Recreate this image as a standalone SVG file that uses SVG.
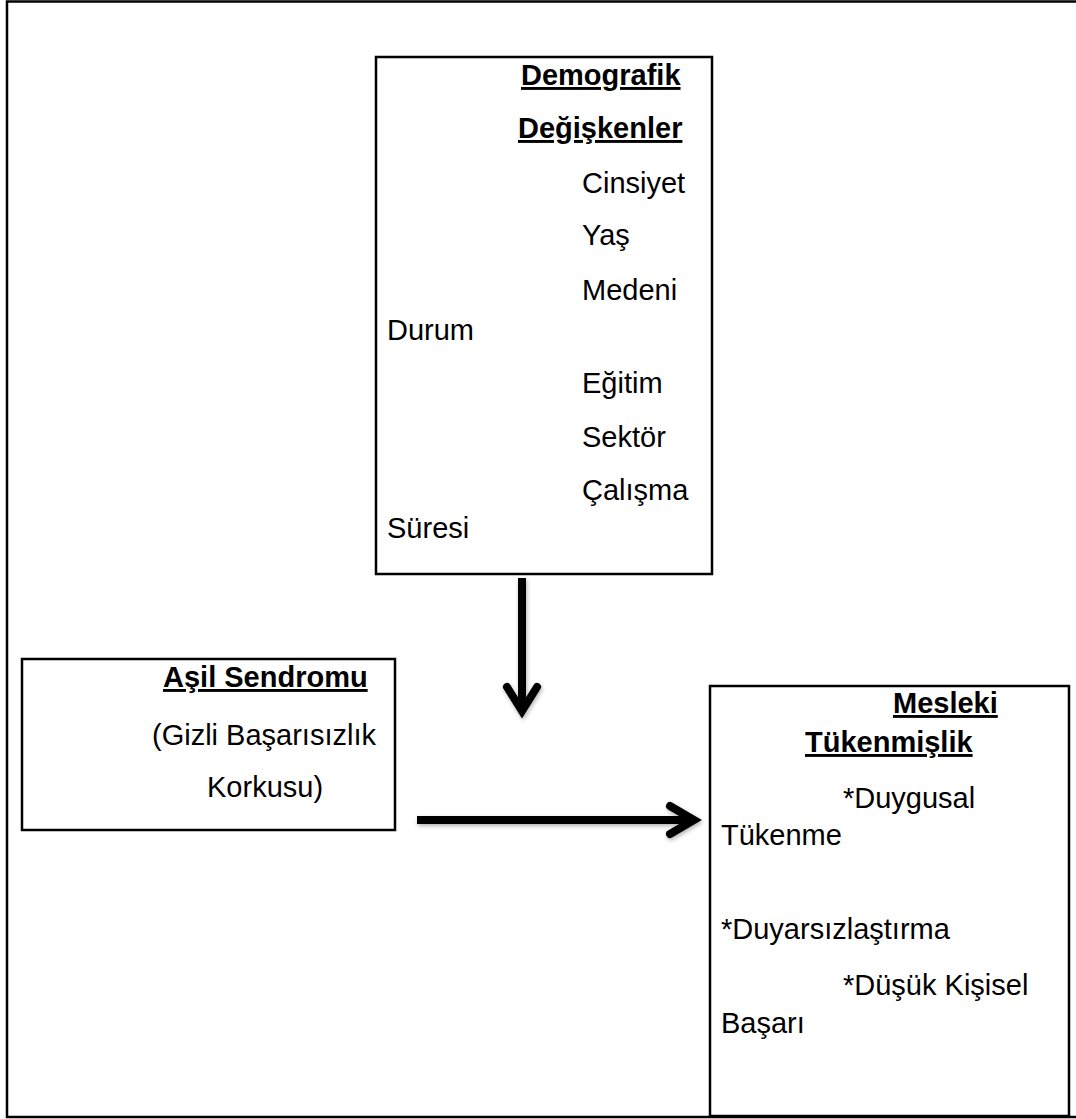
<svg xmlns="http://www.w3.org/2000/svg" width="1076" height="1119" viewBox="0 0 1076 1119">
<defs>
<style>
.box{fill:#fff;stroke:#000;stroke-width:2.5}
.t{font-family:"Liberation Sans",Arial,sans-serif;font-size:29px;fill:#000}
.b{font-weight:bold;text-decoration:underline}
.arr{fill:none;stroke:#000;stroke-width:8}
</style>
<filter id="sh" x="-20%" y="-20%" width="140%" height="140%">
<feDropShadow dx="1" dy="2" stdDeviation="2" flood-color="#000" flood-opacity="0.3"/>
</filter>
</defs>
<rect x="7" y="1.5" width="1080" height="1115.5" fill="none" stroke="#000" stroke-width="2.5"/>
<g id="demografik">
<rect class="box" x="376" y="57" width="336" height="517"/>
<text class="t b" x="521" y="85">Demografik</text>
<text class="t b" x="518" y="138">Değişkenler</text>
<text class="t" x="582" y="193">Cinsiyet</text>
<text class="t" x="582" y="245">Yaş</text>
<text class="t" x="582" y="300">Medeni</text>
<text class="t" x="387" y="340">Durum</text>
<text class="t" x="582" y="393">Eğitim</text>
<text class="t" x="582" y="447">Sektör</text>
<text class="t" x="582" y="500">Çalışma</text>
<text class="t" x="387" y="538">Süresi</text>
</g>
<g id="asil">
<rect class="box" x="22" y="659" width="373" height="171"/>
<text class="t b" x="163" y="687">Aşil Sendromu</text>
<text class="t" x="152" y="745">(Gizli Başarısızlık</text>
<text class="t" x="207" y="797">Korkusu)</text>
</g>
<g id="mesleki">
<rect class="box" x="710" y="686" width="359" height="430"/>
<text class="t b" x="893" y="713">Mesleki</text>
<text class="t b" x="805" y="752">Tükenmişlik</text>
<text class="t" x="843" y="808">*Duygusal</text>
<text class="t" x="721" y="845">Tükenme</text>
<text class="t" x="721" y="939">*Duyarsızlaştırma</text>
<text class="t" x="843" y="995">*Düşük Kişisel</text>
<text class="t" x="721" y="1033">Başarı</text>
</g>
<g id="connectors" filter="url(#sh)">
<line class="arr" x1="522" y1="578" x2="522" y2="711"/>
<polyline class="arr" points="507,687 522,711 537,687" stroke-linecap="round"/>
<line class="arr" x1="417" y1="820" x2="694" y2="820"/>
<polyline class="arr" points="670,806 694,820 670,834" stroke-linecap="round"/>
</g>
</svg>
